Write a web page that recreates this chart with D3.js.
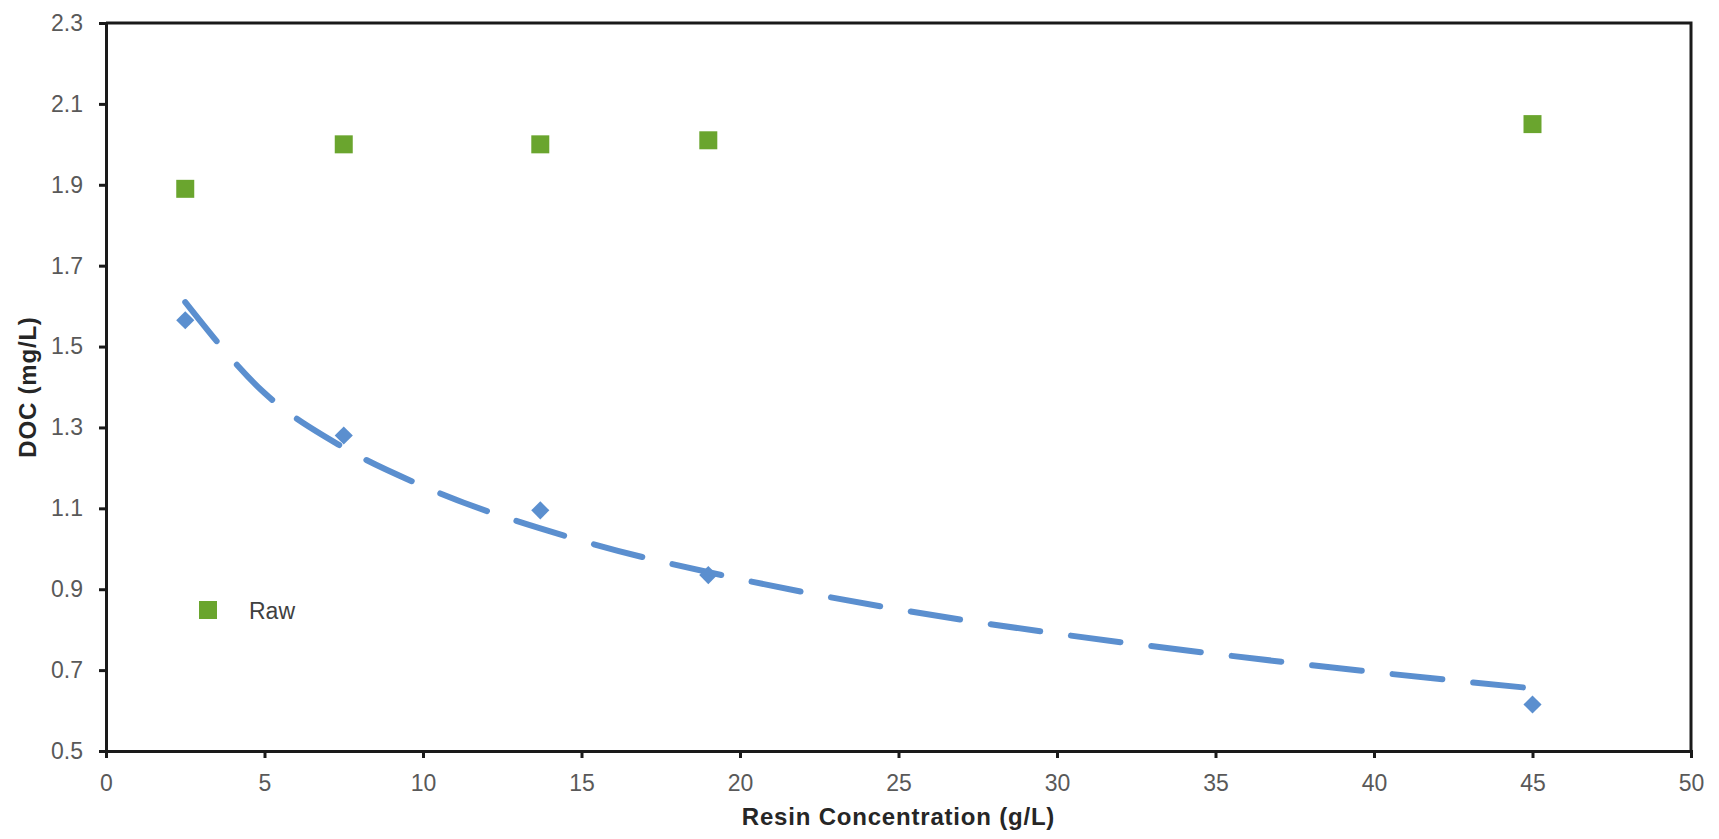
<!DOCTYPE html>
<html>
<head>
<meta charset="utf-8">
<script src="https://cdn.jsdelivr.net/npm/d3@7"></script>
<style>
  body { margin: 0; background: #fff; }
  svg { display: block; font-family: "Liberation Sans", Arial, sans-serif; }
</style>
</head>
<body>
<div class="chart"></div>
<script>
// values
const resinConc = [2.5, 7.5, 13.7, 19, 45];
const docRaw = [1.89, 2.0, 2.0, 2.01, 2.05];
const docTreated = [1.565, 1.28, 1.095, 0.935, 0.615];

// dashed trend line, read at a few x positions
const trendConc = [2.5, 5, 7.5, 10, 15, 20, 25, 30, 35, 40, 45];
const trendDoc = [1.61, 1.385, 1.25, 1.155, 1.02, 0.925, 0.85, 0.79, 0.74, 0.695, 0.655];

const xTicks = [0, 5, 10, 15, 20, 25, 30, 35, 40, 45, 50];
const yTicks = [0.5, 0.7, 0.9, 1.1, 1.3, 1.5, 1.7, 1.9, 2.1, 2.3];

function main() {
    const W = 1719, H = 839;
    const margin = { top: 23, right: 28, bottom: 88, left: 106 };

    const svg = d3.select(".chart")
        .append("svg")
        .attr("width", W)
        .attr("height", H);

    const x = d3.scaleLinear().domain([0, 50]).range([margin.left, W - margin.right]);
    const y = d3.scaleLinear().domain([0.5, 2.3]).range([H - margin.bottom, margin.top]);

    // frame (top + right)
    svg.append("path")
        .attr("d", `M${x(0)},${y(2.3)}H${x(50)}V${y(0.5)}`)
        .attr("fill", "none")
        .attr("stroke", "#1a1a1a")
        .attr("stroke-width", 3);

    // axes
    const xAxis = svg.append("g")
        .attr("transform", `translate(0,${y(0.5)})`)
        .call(d3.axisBottom(x).tickValues(xTicks).tickSize(7).tickPadding(17).tickFormat(d3.format("d")));

    const yAxis = svg.append("g")
        .attr("transform", `translate(${x(0)},0)`)
        .call(d3.axisLeft(y).tickValues(yTicks).tickSize(7).tickPadding(16).tickFormat(d3.format(".1f")));

    [xAxis, yAxis].forEach(g => {
        g.select(".domain").attr("stroke", "#1a1a1a").attr("stroke-width", 3);
        g.selectAll(".tick line").attr("stroke", "#1a1a1a").attr("stroke-width", 3);
        g.selectAll(".tick text")
            .attr("fill", "#595959")
            .style("font-size", "23px")
            .style("font-family", "'Liberation Sans', Arial, sans-serif");
    });

    // trend line
    const trend = trendConc.map((c, i) => ({ c: c, v: trendDoc[i] }));
    const line = d3.line()
        .x(d => x(d.c))
        .y(d => y(d.v))
        .curve(d3.curveMonotoneX);

    // treated points (diamonds)
    const pts = resinConc.map((c, i) => ({ c: c, raw: docRaw[i], treated: docTreated[i] }));

    svg.selectAll(".diamond")
        .data(pts)
        .enter()
        .append("path")
        .attr("class", "diamond")
        .attr("d", d3.symbol().type(d3.symbolSquare).size(165))
        .attr("transform", d => `translate(${x(d.c)},${y(d.treated)}) rotate(45)`)
        .attr("fill", "#5b8fcf");

    svg.append("path")
        .datum(trend)
        .attr("d", line)
        .attr("fill", "none")
        .attr("stroke", "#5b8fcf")
        .attr("stroke-width", 6)
        .attr("stroke-linecap", "round")
        .attr("stroke-dasharray", "50,31");

    // raw points (squares)
    svg.selectAll(".square")
        .data(pts)
        .enter()
        .append("path")
        .attr("class", "square")
        .attr("d", d3.symbol().type(d3.symbolSquare).size(18 * 18))
        .attr("transform", d => `translate(${x(d.c)},${y(d.raw)})`)
        .attr("fill", "#6aa52e");

    // legend
    const legend = svg.append("g").attr("transform", "translate(208,610)");
    legend.append("path")
        .attr("d", d3.symbol().type(d3.symbolSquare).size(18 * 18))
        .attr("fill", "#6aa52e");
    legend.append("text")
        .attr("x", 41)
        .attr("y", 9)
        .attr("fill", "#404040")
        .style("font-size", "23px")
        .text("Raw");

    // axis titles
    svg.append("text")
        .attr("x", (x(0) + x(50)) / 2)
        .attr("y", 825)
        .attr("text-anchor", "middle")
        .attr("fill", "#262626")
        .style("font-size", "24px")
        .style("font-weight", "bold")
        .style("letter-spacing", "0.8px")
        .text("Resin Concentration (g/L)");

    svg.append("text")
        .attr("transform", `translate(36,${(y(0.5) + y(2.3)) / 2}) rotate(-90)`)
        .attr("text-anchor", "middle")
        .attr("fill", "#262626")
        .style("font-size", "24px")
        .style("font-weight", "bold")
        .style("letter-spacing", "0.8px")
        .text("DOC (mg/L)");
}

main();
</script>
</body>
</html>
